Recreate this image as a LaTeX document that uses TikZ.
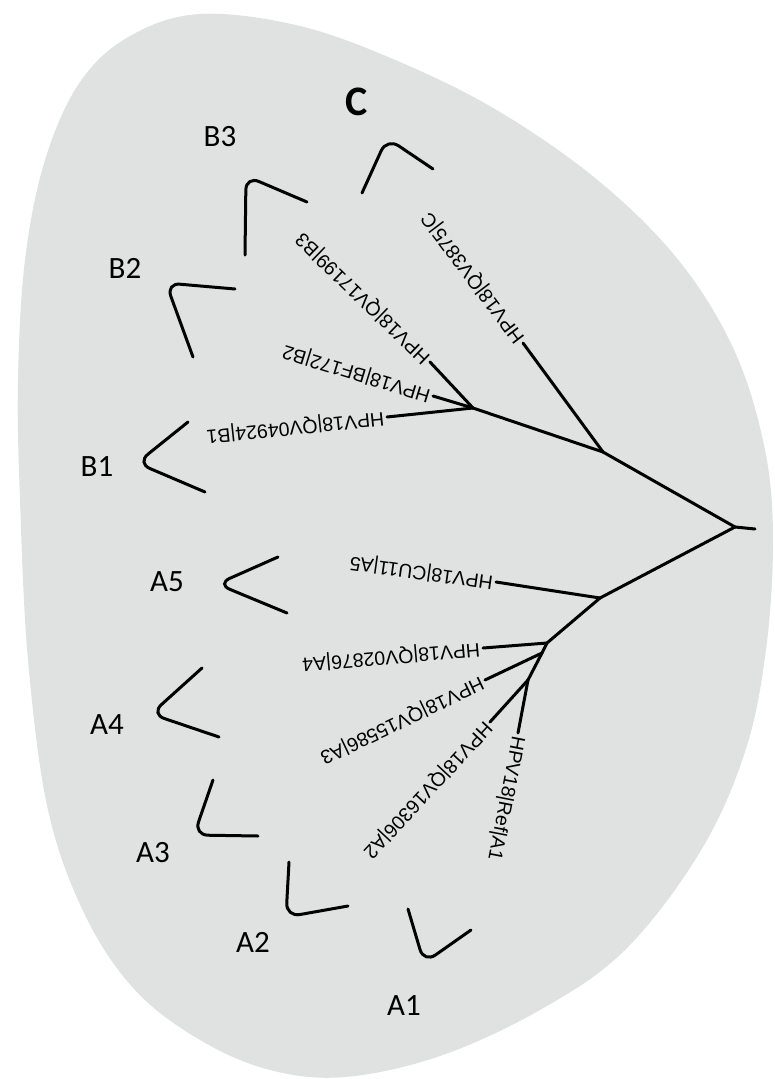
\documentclass[tikz,border=0pt]{standalone}
\usepackage{fontspec}
\newfontfamily\labfont{Liberation Sans}
\newfontfamily\cladefont{Carlito}
\definecolor{blobgrey}{RGB}{224,226,226}
\begin{document}
\begin{tikzpicture}[x=1pt,y=-1pt,
  branch/.style={line width=3pt, line cap=round, line join=round},
  bracket/.style={line width=3pt, rounded corners=14pt, line cap=round},
  leaf/.style={font=\labfont\fontsize{19.5}{20}\selectfont, anchor=west, inner sep=3pt},
  clade/.style={font=\cladefont\fontsize{31}{32}\selectfont, inner sep=0pt},
  cladebig/.style={font=\cladefont\bfseries\fontsize{42}{44}\selectfont, inner sep=0pt}
]
\useasboundingbox (0,0) rectangle (775,1079);
% background blob
\fill[blobgrey] plot[smooth cycle, tension=0.6] coordinates {
 (200,14) (300,26) (400,62) (500,112) (600,182) (680,262) (735,352) (765,450)
 (773,540) (766,650) (745,752) (700,852) (625,950) (540,1010) (440,1056)
 (345,1077) (270,1070) (200,1040) (135,990) (85,915) (48,810) (28,660)
 (20,500) (18,380) (25,260) (45,160) (80,82) (130,36)};

% tree coordinates
\coordinate (root) at (735,527);
\coordinate (rootend) at (755,529);
\coordinate (jBC) at (603,452);
\coordinate (jB) at (473,408);
\coordinate (tC) at (523,343);
\coordinate (tB3) at (430,362);
\coordinate (tB2) at (433,396);
\coordinate (tB1) at (387,417);
\coordinate (jA) at (600,598);
\coordinate (tA5) at (496,582);
\coordinate (jA4) at (547,643);
\coordinate (tA4) at (483,648);
\coordinate (jA3) at (542,653);
\coordinate (tA3) at (485,680);
\coordinate (jA2) at (528,680);
\coordinate (tA2) at (490,722);
\coordinate (tA1) at (518,733);

% branches
\draw[branch] (root) -- (rootend);
\draw[branch] (root) -- (jBC);
\draw[branch] (jBC) -- (tC);
\draw[branch] (jBC) -- (jB);
\draw[branch] (jB) -- (tB3);
\draw[branch] (jB) -- (tB2);
\draw[branch] (jB) -- (tB1);
\draw[branch] (root) -- (jA);
\draw[branch] (jA) -- (tA5);
\draw[branch] (jA) -- (jA4);
\draw[branch] (jA4) -- (tA4);
\draw[branch] (jA4) -- (jA3);
\draw[branch] (jA3) -- (tA3);
\draw[branch] (jA3) -- (jA2);
\draw[branch] (jA2) -- (tA2);
\draw[branch] (jA2) -- (tA1);

% leaf labels
\node[leaf, rotate=127] (lC) at (tC) {HPV18|QV3875|C};
\node[leaf, rotate=136] (lB3) at (tB3) {HPV18|QV17199|B3};
\node[leaf, rotate=163] (lB2) at (tB2) {HPV18|BF172|B2};
\node[leaf, rotate=186] (lB1) at (tB1) {HPV18|QV04924|B1};
\node[leaf, rotate=172] (lA5) at (tA5) {HPV18|CU11|A5};
\node[leaf, rotate=185] (lA4) at (tA4) {HPV18|QV02876|A4};
\node[leaf, rotate=205.5] (lA3) at (tA3) {HPV18|QV15586|A3};
\node[leaf, rotate=227] (lA2) at (tA2) {HPV18|QV16306|A2};
\node[leaf, rotate=259] (lA1) at (tA1) {HPV18|Ref|A1};

% clade brackets
\draw[bracket] (362,193) -- (387,138) -- (433,169);
\draw[bracket] (245,255) -- (246,176) -- (307,202);
\draw[bracket] (193,357) -- (166,283) -- (235,289);
\draw[bracket] (188,422) -- (137,463) -- (205,492);
\draw[bracket] (278,557) -- (217,584) -- (287,613);
\draw[bracket] (202,668) -- (151,714) -- (219,737);
\draw[bracket] (213,780) -- (194,835) -- (258,836);
\draw[bracket] (289,862) -- (286,917) -- (348,906);
\draw[bracket] (408,909) -- (424,963) -- (471,930);

% clade names
\node[cladebig] (nC) at (357,102) {C};
\node[clade] (nB3) at (220,137) {B3};
\node[clade] (nB2) at (125,268) {B2};
\node[clade] (nB1) at (97,467) {B1};
\node[clade] (nA5) at (167,582) {A5};
\node[clade] (nA4) at (107,725) {A4};
\node[clade] (nA3) at (153,853) {A3};
\node[clade] (nA2) at (253,942) {A2};
\node[clade] (nA1) at (404,1006) {A1};
\end{tikzpicture}
\end{document}
